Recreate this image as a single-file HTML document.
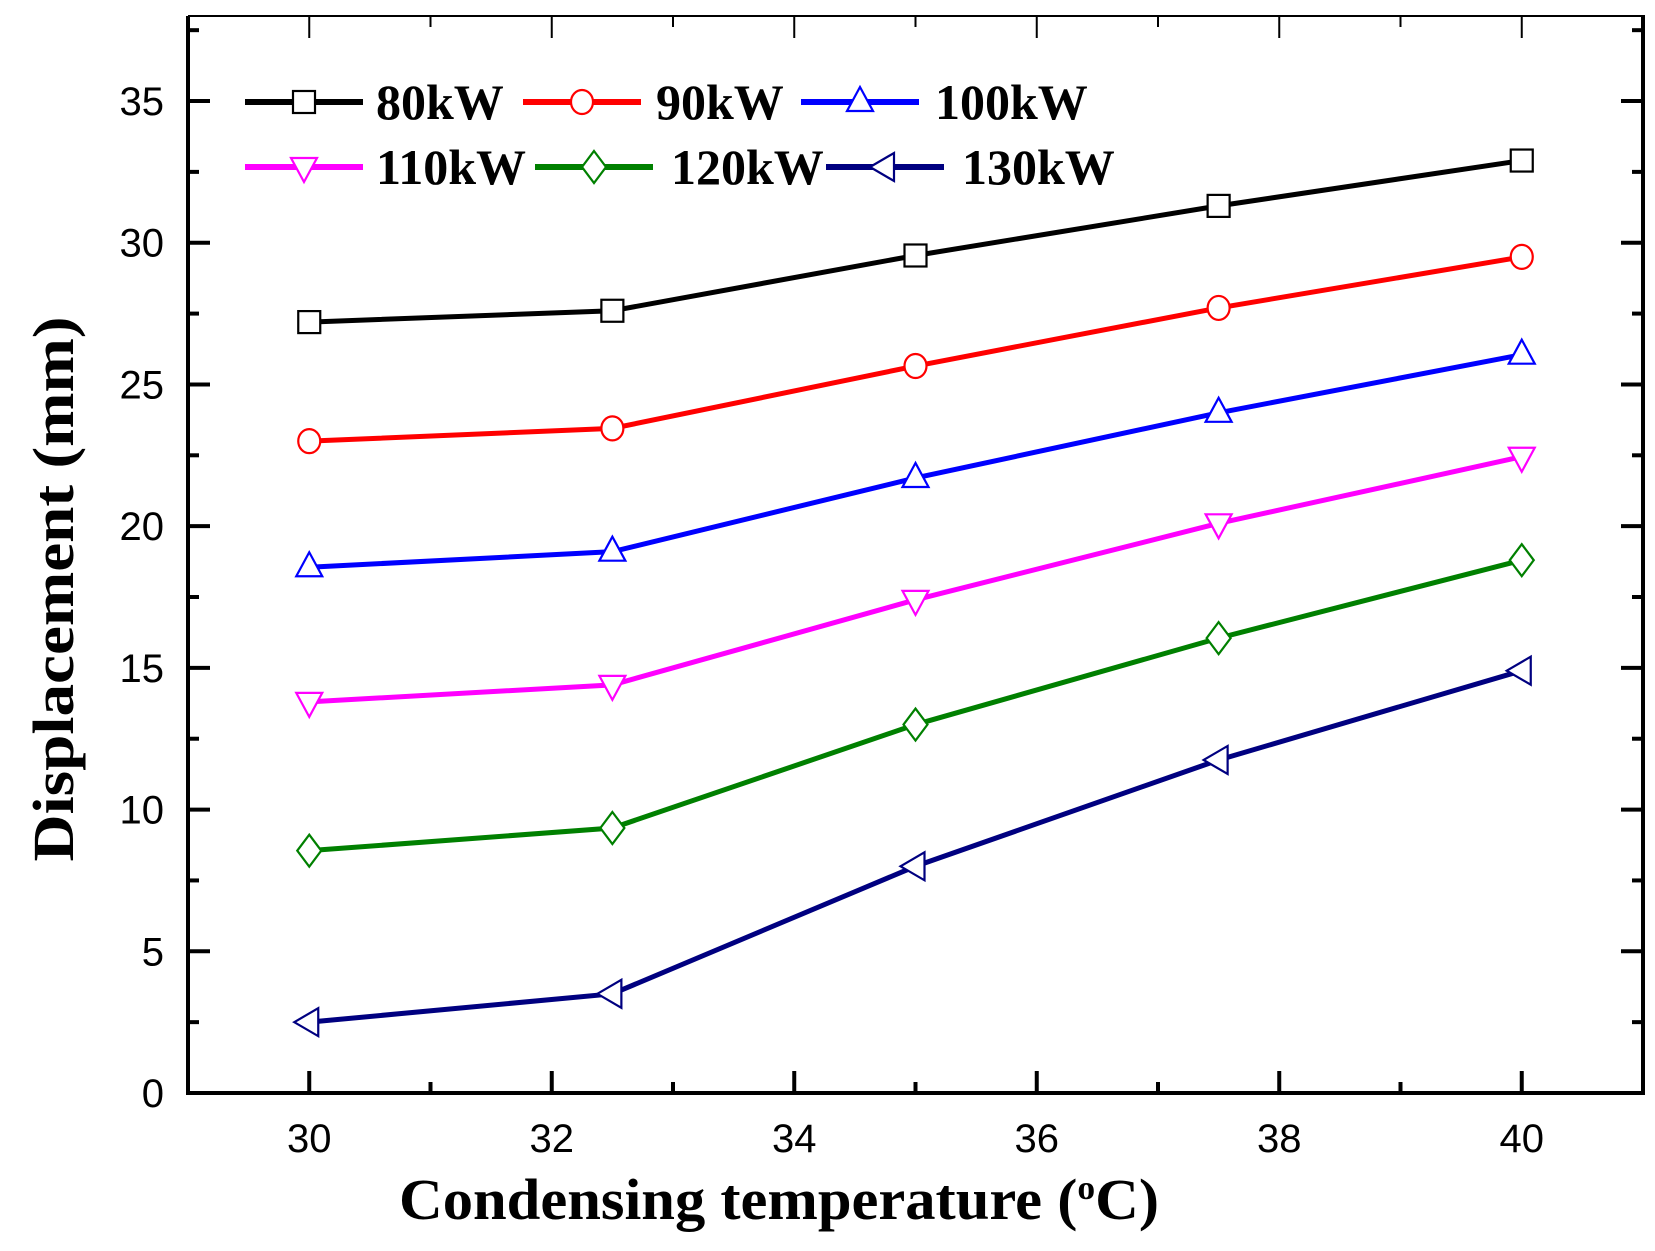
<!DOCTYPE html>
<html><head><meta charset="utf-8"><style>
html,body{margin:0;padding:0;background:#fff;}
svg{display:block;}
</style></head><body>
<svg id="chart" width="1655" height="1251" viewBox="0 0 1655 1251" xmlns="http://www.w3.org/2000/svg">
<g id="axes"></g>
<g id="series"></g>
<g id="legend"></g>
<text x="399" y="1219" textLength="760" lengthAdjust="spacingAndGlyphs" font-family="Liberation Serif, serif" font-weight="bold" font-size="58">Condensing temperature (<tspan font-size="34" dy="-20">o</tspan><tspan dy="20">C)</tspan></text>
<text transform="translate(73,589) rotate(-90)" text-anchor="middle" textLength="545" lengthAdjust="spacingAndGlyphs" font-family="Liberation Serif, serif" font-weight="bold" font-size="58">Displacement  (mm)</text>
</svg>
<script>
const xValues = [30, 32.5, 35, 37.5, 40];
const seriesNames = ['80kW', '90kW', '100kW', '110kW', '120kW', '130kW'];
const s80 = [27.2, 27.6, 29.55, 31.3, 32.9];
const s90 = [23.0, 23.45, 25.65, 27.7, 29.5];
const s100 = [18.55, 19.1, 21.7, 24.0, 26.05];
const s110 = [13.8, 14.4, 17.4, 20.1, 22.45];
const s120 = [8.55, 9.35, 13.0, 16.05, 18.8];
const s130 = [2.5, 3.5, 8.0, 11.75, 14.9];
const xTicks = [30, 32, 34, 36, 38, 40];
const yTicks = [0, 5, 10, 15, 20, 25, 30, 35];

const NS = 'http://www.w3.org/2000/svg';
const X0 = 188, X1 = 1643, Y0 = 1093, Y1 = 16;
const xMin = 29, xMax = 41.0, yMin = 0, yMax = 38;
function xs(v){ return X0 + (v - xMin) / (xMax - xMin) * (X1 - X0); }
function ys(v){ return Y0 - (v - yMin) / (yMax - yMin) * (Y0 - Y1); }
function mk(tag, attrs, parent){
  const e = document.createElementNS(NS, tag);
  for (const k in attrs) e.setAttribute(k, attrs[k]);
  parent.appendChild(e); return e;
}
const axes = document.getElementById('axes');
let l;
l = mk('line', {x1:X0, y1:Y0, x2:X1, y2:Y0, stroke:'#000','stroke-width':4}, axes);
 
l = mk('line', {x1:X0, y1:Y0+2, x2:X0, y2:Y1, stroke:'#000','stroke-width':4}, axes);
 
l = mk('line', {x1:X1, y1:Y0+2, x2:X1, y2:Y1-1, stroke:'#000','stroke-width':4}, axes);
 
l = mk('line', {x1:X0, y1:Y1, x2:X1, y2:Y1, stroke:'#000','stroke-width':2}, axes);
 
for (let v = 29; v <= 41; v++) {
  const x = xs(v); const major = v % 2 === 0;
  if (x < X0 + 3 || x > X1 - 3) continue;
  const len = major ? 22 : 11;
  const t = mk('line', {x1:x, y1:Y0, x2:x, y2:Y0-len, stroke:'#000','stroke-width':4}, axes);
   
  const t2 = mk('line', {x1:x, y1:Y1, x2:x, y2:Y1+len, stroke:'#000','stroke-width':2}, axes);
   
}
xTicks.forEach(v => {
  const t = mk('text', {x:xs(v), y:1152, 'text-anchor':'middle','font-family':'Liberation Sans, sans-serif','font-size':40}, axes);
  t.textContent = v;
   
});
for (let v = 2.5; v <= 37.5; v += 2.5) {
  const y = ys(v); const major = v % 5 === 0;
  const len = major ? 22 : 11;
  const t = mk('line', {x1:X0, y1:y, x2:X0+len, y2:y, stroke:'#000','stroke-width':4}, axes);
   
  const t2 = mk('line', {x1:X1, y1:y, x2:X1-len, y2:y, stroke:'#000','stroke-width':4}, axes);
   
}
yTicks.forEach(v => {
  const t = mk('text', {x:164, y:ys(v)+14, 'text-anchor':'end','font-family':'Liberation Sans, sans-serif','font-size':40}, axes);
  t.textContent = v;
   
});

const colors = ['#000000', '#ff0000', '#0000ff', '#ff00ff', '#008000', '#000080'];
const markers = ['square', 'circle', 'up', 'down', 'diamond', 'left'];
const allSeries = [s80, s90, s100, s110, s120, s130];
function marker(type, x, y, color, parent){
  const a = {fill:'#fff', stroke:color, 'stroke-width':2.2};
  let e;
  if (type === 'square') e = mk('rect', Object.assign({x:x-11, y:y-11, width:22, height:22}, a), parent);
  else if (type === 'circle') e = mk('ellipse', Object.assign({cx:x, cy:y, rx:11, ry:12}, a), parent);
  else if (type === 'up') e = mk('polygon', Object.assign({points:`${x},${y-15} ${x-13},${y+9} ${x+13},${y+9}`}, a), parent);
  else if (type === 'down') e = mk('polygon', Object.assign({points:`${x},${y+15} ${x-13},${y-9} ${x+13},${y-9}`}, a), parent);
  else if (type === 'diamond') e = mk('polygon', Object.assign({points:`${x},${y-16} ${x+12},${y} ${x},${y+16} ${x-12},${y}`}, a), parent);
  else e = mk('polygon', Object.assign({points:`${x-15},${y} ${x+9},${y-14} ${x+9},${y+14}`}, a), parent);
  return e;
}
const sg = document.getElementById('series');
allSeries.forEach((vals, i) => {
  const g = mk('g', {}, sg);
  
  
  const pts = vals.map((v, j) => xs(xValues[j]) + ',' + ys(v)).join(' ');
  const pl = mk('polyline', {points:pts, fill:'none', stroke:colors[i], 'stroke-width':5}, g);
  
  
  vals.forEach((v, j) => {
    const m = marker(markers[i], xs(xValues[j]), ys(v), colors[i], g);
    
    
  });
});
const lg = document.getElementById('legend');
const legPos = [[245,102,376],[523,102,656],[801,102,935],[245,167,376],[535,167,671],[826,167,962]];
seriesNames.forEach((n, i) => {
  const [x, y, tx] = legPos[i];
  const g = mk('g', {}, lg);
  
  
  mk('line', {x1:x, y1:y, x2:x+118, y2:y, stroke:colors[i], 'stroke-width':6}, g);
  marker(markers[i], x+59, y, colors[i], g);
  const t = mk('text', {x:tx, y:y+17, 'font-family':'Liberation Serif, serif','font-weight':'bold','font-size':50}, g);
  t.textContent = n;
   
});
</script>
</body></html>
